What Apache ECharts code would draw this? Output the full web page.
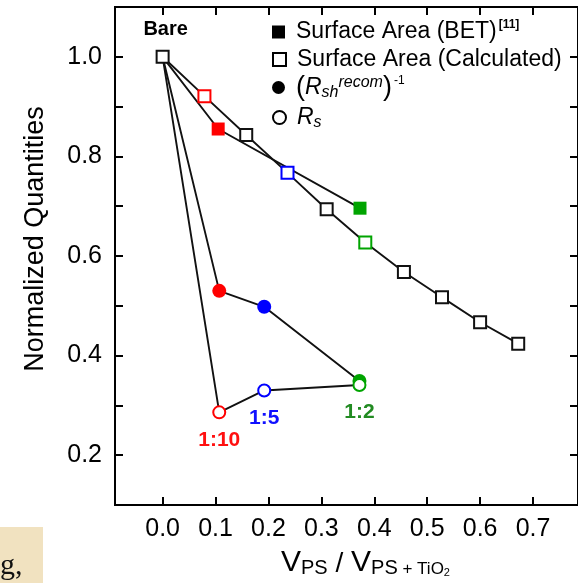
<!DOCTYPE html>
<html>
<head>
<meta charset="utf-8">
<script src="https://cdn.jsdelivr.net/npm/echarts@6/dist/echarts.min.js"></script>
<style>
  html, body { margin: 0; padding: 0; background: #fff; }
  #normChart { width: 578px; height: 583px; }
</style>
</head>
<body>
<div id="normChart"></div>
<script>
// values
var xTicks = [0, 0.1, 0.2, 0.3, 0.4, 0.5, 0.6, 0.7];

var calcX = [0, 0.079, 0.158, 0.236, 0.310, 0.383, 0.456, 0.528, 0.600, 0.672];
var calcY = [1.0, 0.921, 0.843, 0.767, 0.694, 0.627, 0.568, 0.517, 0.467, 0.424];

var betX = [0, 0.105, 0.373];
var betY = [1.0, 0.855, 0.696];

var rshX = [0, 0.107, 0.192, 0.372];
var rshY = [1.0, 0.530, 0.498, 0.349];

var rsX = [0, 0.107, 0.192, 0.372];
var rsY = [1.0, 0.286, 0.330, 0.341];

var ratioLabels = ['', '1:10', '1:5', '1:2'];

// styling
var RED = '#ff0000', BLUE = '#0000ff', GREEN = '#00a400', BLK = '#111';
var calcColors = [BLK, RED, BLK, BLUE, BLK, GREEN, BLK, BLK, BLK, BLK];
var betColors = [null, RED, GREEN];
var sampleColors = [null, RED, BLUE, GREEN];
var labelColors = [null, '#ff1010', '#1010ff', '#228b22'];
var FONT = 'Liberation Sans';

function points(xs, ys, colors, filled) {
  return xs.map(function (x, i) {
    var item = { value: [x, ys[i]] };
    if (!colors[i]) {
      item.symbol = 'none';
    } else if (filled) {
      item.itemStyle = { color: colors[i], borderWidth: 0 };
    } else {
      item.itemStyle = { color: '#fff', borderColor: colors[i], borderWidth: 2 };
    }
    return item;
  });
}

var calcData = points(calcX, calcY, calcColors, false);
calcData[0].label = {
  show: true, position: 'top', distance: 10, formatter: 'Bare',
  fontFamily: FONT, fontWeight: 'bold', fontSize: 20, color: '#000', offset: [3, 0]
};

var rsData = points(rsX, rsY, sampleColors, false);
for (var i = 1; i < rsData.length; i++) {
  rsData[i].label = {
    show: true, position: 'bottom', distance: 10, formatter: ratioLabels[i],
    fontFamily: FONT, fontWeight: 'bold', fontSize: 21, color: labelColors[i]
  };
}

var legendText = {
  'Surface Area (BET)': '{t|Surface Area (BET)}{sb|[11]}',
  'Surface Area (Calculated)': '{t|Surface Area (Calculated)}',
  'Rsh': '{par|(}{it|R}{sub|sh}{sup|recom}{par|)}{sup2|-1}',
  'Rs': '{it|R}{sub|s}'
};

var legendRich = {
  t: { fontSize: 23, lineHeight: 26, color: '#000' },
  sb: { fontSize: 12, fontWeight: 'bold', lineHeight: 14, verticalAlign: 'top', color: '#000', padding: [0, 0, 0, 2] },
  par: { fontSize: 27, lineHeight: 26, color: '#000' },
  it: { fontSize: 23, fontStyle: 'italic', lineHeight: 26, color: '#000' },
  sub: { fontSize: 16, fontStyle: 'italic', lineHeight: 18, verticalAlign: 'bottom', color: '#000' },
  sup: { fontSize: 16, fontStyle: 'italic', lineHeight: 12, verticalAlign: 'top', color: '#000' },
  sup2: { fontSize: 12, lineHeight: 12, verticalAlign: 'top', color: '#000', padding: [0, 0, 0, 2] }
};

function legendRow(name, icon, top) {
  return {
    orient: 'vertical', left: 267, top: top,
    itemWidth: 13, itemHeight: 13,
    selectedMode: false,
    data: [{ name: name, icon: icon }],
    formatter: function (n) { return legendText[n]; },
    textStyle: { color: '#000', padding: [0, 0, 0, 6], rich: legendRich }
  };
}

var lineStyle = { color: BLK, width: 1.9 };

var option = {
  animation: false,
  textStyle: { fontFamily: FONT },
  grid: {
    left: 115, top: 7, width: 467, height: 500,
    show: true, borderColor: '#000', borderWidth: 2, backgroundColor: 'transparent'
  },
  legend: [
    legendRow('Surface Area (BET)', 'rect', 14),
    legendRow('Surface Area (Calculated)', 'rect', 43),
    legendRow('Rsh', 'circle', 69),
    legendRow('Rs', 'circle', 101)
  ],
  xAxis: [
    {
      type: 'value', position: 'bottom', min: -0.09, max: 0.785,
      axisLine: { show: false, onZero: false },
      splitLine: { show: false },
      axisTick: { show: true, inside: true, length: 8, customValues: xTicks, lineStyle: { color: '#000', width: 2 } },
      axisLabel: {
        customValues: xTicks, margin: 12, fontSize: 25, color: '#000',
        formatter: function (v) { return v.toFixed(1); }
      },
      name: '{v|V}{ps|PS}{sl| / }{v|V}{ps|PS}{pt| + TiO}{sub|2}',
      nameLocation: 'middle', nameGap: 45,
      nameTextStyle: {
        color: '#000',
        padding: [0, 0, 0, 38],
        rich: {
          v: { fontSize: 30, lineHeight: 28, verticalAlign: 'bottom', color: '#000' },
          ps: { fontSize: 20, lineHeight: 21, verticalAlign: 'bottom', color: '#000' },
          sl: { fontSize: 28, lineHeight: 28, verticalAlign: 'bottom', color: '#000' },
          pt: { fontSize: 17, lineHeight: 19, verticalAlign: 'bottom', color: '#000' },
          sub: { fontSize: 11, lineHeight: 9, verticalAlign: 'bottom', color: '#000' }
        }
      }
    },
    {
      type: 'value', position: 'top', min: -0.09, max: 0.785,
      axisLine: { show: false, onZero: false },
      splitLine: { show: false },
      axisTick: { show: true, inside: true, length: 8, customValues: xTicks, lineStyle: { color: '#000', width: 2 } },
      axisLabel: { show: false }
    }
  ],
  yAxis: [
    {
      type: 'value', position: 'left', min: 0.1, max: 1.1, interval: 0.1,
      axisLine: { show: false, onZero: false },
      splitLine: { show: false },
      axisTick: { show: true, inside: true, length: 8, lineStyle: { color: '#000', width: 2 } },
      axisLabel: {
        margin: 13, fontSize: 25, color: '#000',
        formatter: function (v) {
          var k = Math.round(v * 10);
          return (k % 2 === 0) ? v.toFixed(1) : '';
        }
      },
      name: 'Normalized Quantities',
      nameLocation: 'middle', nameGap: 66,
      nameTextStyle: { fontSize: 27, color: '#000', padding: [0, 0, 0, 34] }
    },
    {
      type: 'value', position: 'right', min: 0.1, max: 1.1, interval: 0.1,
      axisLine: { show: false, onZero: false },
      splitLine: { show: false },
      axisTick: { show: true, inside: true, length: 8, lineStyle: { color: '#000', width: 2 } },
      axisLabel: { show: false }
    }
  ],
  series: [
    {
      name: 'Surface Area (BET)', type: 'line', symbol: 'rect', symbolSize: 13,
      itemStyle: { color: '#000' }, lineStyle: lineStyle, z: 2,
      data: points(betX, betY, betColors, true)
    },
    {
      name: 'Rsh', type: 'line', symbol: 'circle', symbolSize: 14,
      itemStyle: { color: '#000' }, lineStyle: lineStyle, z: 2,
      data: points(rshX, rshY, sampleColors, true)
    },
    {
      name: 'Rs', type: 'line', symbol: 'circle', symbolSize: 12,
      itemStyle: { color: '#fff', borderColor: '#000', borderWidth: 2 }, lineStyle: lineStyle, z: 3,
      data: rsData
    },
    {
      name: 'Surface Area (Calculated)', type: 'line', symbol: 'rect', symbolSize: 12,
      itemStyle: { color: '#fff', borderColor: '#000', borderWidth: 2 }, lineStyle: lineStyle, z: 4,
      data: calcData
    }
  ],
  graphic: [
    { type: 'rect', left: 0, top: 527, shape: { width: 43, height: 56 }, style: { fill: '#f1e2c0' }, silent: true },
    { type: 'text', left: 0, top: 551, style: { text: 'g,', fontFamily: 'Liberation Serif', fontSize: 30, fill: '#111' }, silent: true }
  ]
};

var normChart = echarts.init(document.getElementById('normChart'));
normChart.setOption(option);
</script>
</body>
</html>
